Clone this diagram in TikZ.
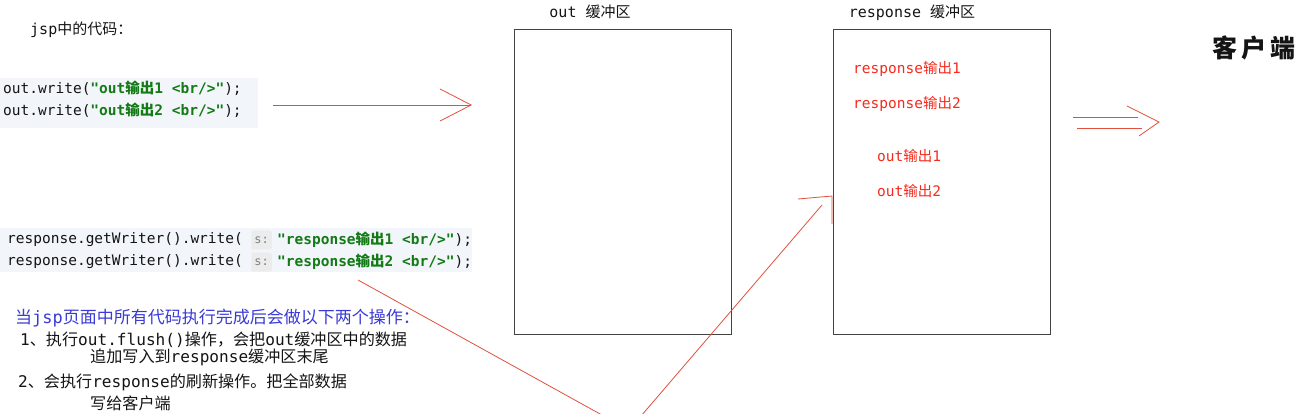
\documentclass[tikz,border=0pt]{standalone}
\usepackage{fontspec}
\setmonofont{DejaVu Sans Mono}
\newfontfamily\cjk{Noto Sans CJK SC}
\usetikzlibrary{positioning,arrows.meta}
\definecolor{ink}{HTML}{141414}
\definecolor{strgreen}{HTML}{137A16}
\definecolor{codebg}{HTML}{F2F6FA}
\definecolor{tagbg}{HTML}{ECECEC}
\definecolor{penred}{HTML}{E0503C}
\definecolor{hotred}{HTML}{F52A1E}
\definecolor{notecol}{HTML}{3A3AD6}
\newcommand{\zh}[1]{{\cjk #1}}
\newcommand{\lit}[1]{{\color{strgreen}\bfseries #1}}

\begin{document}
\begin{tikzpicture}[x=1pt,y=-1pt,
  every node/.style={inner sep=0pt,text=ink},
  code/.style={anchor=west,font=\ttfamily\fontsize{14.5}{16}\selectfont},
  tagbox/.style={fill=tagbg,rounded corners=2pt,text=gray,inner xsep=3pt,minimum height=19pt,font=\ttfamily\fontsize{12}{14}\selectfont},
  bufname/.style={font=\ttfamily\fontsize{15}{17}\selectfont},
  buf/.style={draw=ink!80,line width=1.2pt,minimum width=217pt,minimum height=305pt,anchor=north west},
  redtxt/.style={anchor=west,text=hotred,font=\ttfamily\fontsize{14.5}{16}\selectfont},
  note/.style={anchor=west,font=\ttfamily\fontsize{16.1}{18}\selectfont},
  pen/.style={draw=penred,line width=0.8pt}]
\path[use as bounding box,clip] (0,0) rectangle (1312,414);

% code on the jsp page
\fill[codebg] (0,78) rectangle (258,128);
\fill[codebg] (0,228) rectangle (472,272);
\node[bufname,anchor=west] (title) at (30,30) {jsp\zh{中的代码：}};
\node[code] (ow1) at (3,88) {out.write(\lit{"out\zh{输出}1 <br/>"});};
\node[code] (ow2) at (3,110) {out.write(\lit{"out\zh{输出}2 <br/>"});};
\node[code] (rw1) at (7,240) {response.getWriter().write(};
\node[tagbox,right=8pt of rw1] (s1) {s:};
\node[code,right=5pt of s1] (rs1) {\lit{"response\zh{输出}1 <br/>"});};
\node[code] (rw2) at (7,262) {response.getWriter().write(};
\node[tagbox,right=8pt of rw2] (s2) {s:};
\node[code,right=5pt of s2] (rs2) {\lit{"response\zh{输出}2 <br/>"});};

% notes
\node[note,text=notecol,font=\ttfamily\fontsize{17}{19}\selectfont] (hint) at (15,318) {\zh{当}jsp\zh{页面中所有代码执行完成后会做以下两个操作：}};
\node[note] (step1) at (20,340) {1\zh{、执行}out.flush()\zh{操作，会把}out\zh{缓冲区中的数据}};
\node[note] (step1b) at (90,357) {\zh{追加写入到}response\zh{缓冲区末尾}};
\node[note] (step2) at (18,382) {2\zh{、会执行}response\zh{的刷新操作。把全部数据}};
\node[note] (step2b) at (90,403) {\zh{写给客户端}};

% buffers
\node[buf] (outbuf) at (514,29) {};
\node[buf] (respbuf) at (833,29) {};
\node[bufname] (outlbl) at (590,12) {out \zh{缓冲区}};
\node[bufname] (resplbl) at (912,13) {response \zh{缓冲区}};
\node[redtxt] (r1) at (853,69) {response\zh{输出}1};
\node[redtxt] (r2) at (853,104) {response\zh{输出}2};
\node[redtxt] (o1) at (877,156) {out\zh{输出}1};
\node[redtxt] (o2) at (877,191) {out\zh{输出}2};

\node[font=\cjk\bfseries\fontsize{25}{28}\selectfont] (client) at (1254,48) {客\hspace{4pt}户\hspace{4pt}端};

% arrows
\coordinate (a1s) at (273,105);
\coordinate (a1e) at (472,105);
\draw[pen,-{Straight Barb[length=31pt,width=32pt]}] (a1s) -- (a1e);

\coordinate (d1s) at (1073,117);
\coordinate (d1e) at (1138,117);
\coordinate (d2s) at (1077,128);
\coordinate (d2e) at (1142,128);
\coordinate (dtip) at (1159,122);
\draw[pen] (d1s) -- (d1e);
\draw[pen] (d2s) -- (d2e);
\draw[pen] (1127,106) -- (dtip) -- (1139,136);

\coordinate (v1) at (358,280);
\coordinate (v0) at (629,430);
\coordinate (v2) at (822,205);
\draw[pen] (v1) -- (v0) -- (v2);
\draw[pen] (798,199) -- (832,196) -- (832,224);
\end{tikzpicture}
\end{document}
